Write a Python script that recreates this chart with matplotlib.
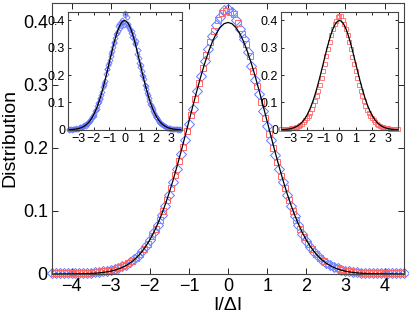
import numpy as np
import matplotlib
matplotlib.use('Agg')
import matplotlib.pyplot as plt

plt.rcParams['font.family'] = ['Liberation Sans', 'DejaVu Sans']

# main panel: gaussian reference curve on a 0.1 grid from -4.5 to 4.5
curve_x = np.round(np.arange(-4.5, 4.51, 0.1), 2)
curve_y = [0.0000, 0.0000, 0.0000, 0.0001, 0.0001, 0.0001, 0.0002, 0.0003, 0.0004, 0.0006,
           0.0009, 0.0012, 0.0017, 0.0024, 0.0033, 0.0044, 0.0060, 0.0079, 0.0104, 0.0136,
           0.0175, 0.0224, 0.0283, 0.0355, 0.0440, 0.0540, 0.0656, 0.0790, 0.0940, 0.1109,
           0.1295, 0.1497, 0.1714, 0.1942, 0.2179, 0.2420, 0.2661, 0.2897, 0.3123, 0.3332,
           0.3521, 0.3683, 0.3814, 0.3910, 0.3970, 0.3989, 0.3970, 0.3910, 0.3814, 0.3683,
           0.3521, 0.3332, 0.3123, 0.2897, 0.2661, 0.2420, 0.2179, 0.1942, 0.1714, 0.1497,
           0.1295, 0.1109, 0.0940, 0.0790, 0.0656, 0.0540, 0.0440, 0.0355, 0.0283, 0.0224,
           0.0175, 0.0136, 0.0104, 0.0079, 0.0060, 0.0044, 0.0033, 0.0024, 0.0017, 0.0012,
           0.0009, 0.0006, 0.0004, 0.0003, 0.0002, 0.0001, 0.0001, 0.0001, 0.0000, 0.0000,
           0.0000]

# main panel data, blue diamonds (bins -4.5 .. 4.5)
blue_x = np.round(np.arange(-4.5, 4.51, 0.1), 2)
blue_y = [0.001, 0.001, 0.001, 0.001, 0.001, 0.001, 0.002, 0.001, 0.002, 0.002,
          0.002, 0.003, 0.003, 0.004, 0.005, 0.006, 0.008, 0.010, 0.012, 0.015,
          0.019, 0.024, 0.029, 0.037, 0.044, 0.054, 0.066, 0.078, 0.093, 0.108,
          0.126, 0.146, 0.167, 0.190, 0.212, 0.238, 0.262, 0.290, 0.314, 0.338,
          0.357, 0.378, 0.395, 0.408, 0.418, 0.420, 0.415, 0.402, 0.388, 0.372,
          0.352, 0.330, 0.308, 0.285, 0.258, 0.234, 0.212, 0.188, 0.167, 0.146,
          0.126, 0.108, 0.092, 0.077, 0.064, 0.053, 0.043, 0.035, 0.028, 0.022,
          0.018, 0.014, 0.011, 0.009, 0.007, 0.005, 0.004, 0.003, 0.003, 0.002,
          0.002, 0.002, 0.001, 0.001, 0.001, 0.001, 0.001, 0.001, 0.001, 0.001,
          0.001]

# main panel data, red squares (bins -4.45 .. 4.45)
red_x = np.round(np.arange(-4.45, 4.46, 0.1), 2)
red_y = [0.001, 0.001, 0.001, 0.001, 0.001, 0.001, 0.002, 0.002, 0.002, 0.002,
         0.003, 0.003, 0.004, 0.004, 0.006, 0.007, 0.009, 0.011, 0.014, 0.017,
         0.021, 0.026, 0.032, 0.040, 0.048, 0.060, 0.072, 0.085, 0.100, 0.117,
         0.136, 0.157, 0.179, 0.201, 0.226, 0.252, 0.278, 0.303, 0.327, 0.348,
         0.368, 0.385, 0.402, 0.414, 0.417, 0.416, 0.412, 0.398, 0.381, 0.364,
         0.345, 0.322, 0.298, 0.272, 0.247, 0.222, 0.199, 0.177, 0.156, 0.136,
         0.117, 0.100, 0.085, 0.071, 0.059, 0.048, 0.039, 0.032, 0.025, 0.020,
         0.016, 0.013, 0.010, 0.008, 0.006, 0.005, 0.004, 0.003, 0.003, 0.002,
         0.002, 0.002, 0.001, 0.001, 0.001, 0.001, 0.001, 0.001, 0.001, 0.001]

# left inset, blue data (two interleaved sets)
ins_blue_xa = np.round(np.arange(-3.6, 3.61, 0.1), 2)
ins_blue_ya = [0.002, 0.003, 0.001, 0.004, 0.003, 0.006, 0.005, 0.009, 0.008, 0.012,
               0.016, 0.014, 0.024, 0.028, 0.035, 0.046, 0.052, 0.068, 0.075, 0.098,
               0.112, 0.128, 0.155, 0.172, 0.205, 0.222, 0.245, 0.270, 0.288, 0.318,
               0.335, 0.352, 0.378, 0.372, 0.395, 0.392, 0.418, 0.385, 0.380, 0.372,
               0.355, 0.340, 0.330, 0.312, 0.278, 0.262, 0.228, 0.215, 0.198, 0.165,
               0.150, 0.128, 0.105, 0.092, 0.075, 0.062, 0.048, 0.042, 0.032, 0.026,
               0.020, 0.016, 0.013, 0.010, 0.007, 0.006, 0.004, 0.004, 0.003, 0.002,
               0.002, 0.002, 0.001]
ins_blue_xb = np.round(np.arange(-3.55, 3.56, 0.1), 2)
ins_blue_yb = [0.001, 0.002, 0.003, 0.002, 0.004, 0.005, 0.006, 0.010, 0.011, 0.013,
               0.018, 0.021, 0.025, 0.033, 0.040, 0.050, 0.058, 0.074, 0.086, 0.102,
               0.118, 0.140, 0.162, 0.178, 0.222, 0.238, 0.255, 0.280, 0.302, 0.322,
               0.350, 0.360, 0.385, 0.380, 0.402, 0.382, 0.425, 0.410, 0.388, 0.365,
               0.362, 0.345, 0.318, 0.325, 0.290, 0.245, 0.238, 0.200, 0.185, 0.160,
               0.135, 0.118, 0.095, 0.085, 0.068, 0.055, 0.046, 0.036, 0.030, 0.022,
               0.018, 0.014, 0.012, 0.008, 0.008, 0.005, 0.004, 0.003, 0.003, 0.002,
               0.001, 0.002]

# right inset, red data
ins_red_x = np.round(np.arange(-3.6, 3.61, 0.1), 2)
ins_red_y = [0.002, 0.002, 0.003, 0.003, 0.004, 0.005, 0.006, 0.007, 0.008, 0.010,
             0.012, 0.015, 0.019, 0.023, 0.029, 0.035, 0.043, 0.052, 0.063, 0.075,
             0.089, 0.105, 0.123, 0.143, 0.165, 0.189, 0.214, 0.241, 0.268, 0.295,
             0.322, 0.347, 0.369, 0.388, 0.397, 0.410, 0.414, 0.415, 0.400, 0.386,
             0.368, 0.346, 0.321, 0.294, 0.267, 0.240, 0.213, 0.188, 0.164, 0.142,
             0.122, 0.104, 0.088, 0.074, 0.062, 0.051, 0.042, 0.035, 0.028, 0.023,
             0.019, 0.015, 0.012, 0.010, 0.008, 0.007, 0.006, 0.005, 0.004, 0.003,
             0.003, 0.002, 0.002]

ins_curve_x = curve_x[9:82]
ins_curve_y = curve_y[9:82]

blue = '#6677ff'
red = '#ff6666'
spine_col = '#444444'


def style_axes(ax, size, length):
    ax.tick_params(direction='in', top=True, right=True, length=length,
                   width=0.6, labelsize=size, pad=3, colors='black')
    for s in ax.spines.values():
        s.set_color(spine_col)
        s.set_linewidth(0.8)


fig = plt.figure(figsize=(4.09, 3.16), dpi=100)

ax = fig.add_axes([0.127, 0.133, 0.861, 0.858])
ax.plot(blue_x, blue_y, 'D', mfc='none', mec=blue, ms=5, mew=0.7, clip_on=False)
ax.plot(red_x, red_y, 's', mfc='none', mec=red, ms=5, mew=0.7, clip_on=False)
ax.plot(curve_x, curve_y, color='black', lw=0.9)
ax.set_xlim(-4.5, 4.5)
ax.set_ylim(0, 0.43)
ax.set_xticks(range(-4, 5))
ax.set_xticklabels(['\u22124', '\u22123', '\u22122', '\u22121', '0', '1', '2', '3', '4'])
ax.set_yticks([0, 0.1, 0.2, 0.3, 0.4])
ax.set_yticklabels(['0', '0.1', '0.2', '0.3', '0.4'])
style_axes(ax, 13, 4)
ax.set_xlabel('I/\u0394I', fontsize=14, labelpad=1)
ax.set_ylabel('Distribution', fontsize=14, labelpad=3)

# left inset
ax1 = fig.add_axes([0.166, 0.589, 0.279, 0.373])
ax1.plot(ins_blue_xa, ins_blue_ya, 'D', mfc='none', mec=blue, ms=2.6, mew=0.6, clip_on=False)
ax1.plot(ins_blue_xb, ins_blue_yb, 'D', mfc='none', mec=blue, ms=2.6, mew=0.6, clip_on=False)
ax1.plot(ins_curve_x, ins_curve_y, color='black', lw=0.9)
ax1.set_xlim(-3.65, 3.7)
ax1.set_ylim(0, 0.43)

# right inset
ax2 = fig.add_axes([0.687, 0.589, 0.286, 0.373])
ax2.plot(ins_red_x, ins_red_y, 's', mfc='none', mec=red, ms=2.8, mew=0.6, clip_on=False)
ax2.plot(ins_curve_x, ins_curve_y, color='black', lw=0.9)
ax2.set_xlim(-3.6, 3.6)
ax2.set_ylim(0, 0.43)

for a in (ax1, ax2):
    a.set_xticks(range(-3, 4))
    a.set_xticklabels(['\u22123', '\u22122', '\u22121', '0', '1', '2', '3'])
    a.set_yticks([0, 0.1, 0.2, 0.3, 0.4])
    a.set_yticklabels(['0', '0.1', '0.2', '0.3', '0.4'])
    style_axes(a, 9, 2)
    a.tick_params(pad=2)

fig.savefig('out.png', dpi=100)
